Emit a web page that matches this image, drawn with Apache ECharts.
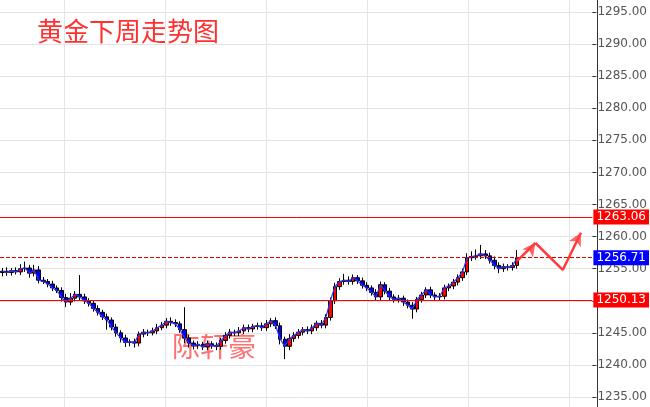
<!DOCTYPE html>
<html><head><meta charset="utf-8">
<script src="https://cdn.jsdelivr.net/npm/echarts@6/dist/echarts.min.js"></script>
<style>html,body{margin:0;padding:0;background:#fff}#c{width:650px;height:407px}</style>
</head><body><div id="c"></div>
<script>
const closes=[1254.6,1254.4,1254.7,1254.5,1255.0,1255.1,1254.3,1254.8,1253.2,1253.0,1252.6,
1252.0,1251.6,1250.5,1249.8,1250.4,1251.0,1250.6,1250.0,1249.6,1248.8,
1248.2,1247.5,1247.0,1245.9,1245.0,1244.2,1243.5,1243.6,1243.4,1244.8,
1245.1,1245.0,1245.3,1245.8,1246.2,1246.8,1246.6,1246.4,1245.5,1244.2,
1243.4,1243.0,1243.2,1242.8,1243.3,1243.0,1242.9,1243.8,1244.6,1245.1,
1245.0,1245.3,1245.8,1245.6,1246.0,1246.1,1245.8,1246.4,1246.9,1246.1,
1244.0,1242.9,1244.1,1244.6,1245.1,1245.5,1245.3,1245.8,1246.5,1246.2,
1247.4,1250.0,1252.2,1253.0,1253.2,1253.0,1253.6,1253.1,1252.4,1252.0,
1251.3,1250.6,1252.5,1251.5,1250.6,1250.2,1250.4,1249.8,1249.3,1248.7,
1250.2,1250.9,1251.7,1250.9,1250.6,1250.7,1252.0,1252.3,1252.9,1253.6,
1254.5,1256.7,1256.9,1257.0,1257.3,1257.0,1256.3,1255.5,1255.0,1255.3,1255.2,1255.5,1256.7];
const wickUp=[0.5,0.6,0.4,0.5,0.7,1.0,0.5,0.8,0.6,0.5,0.4,0.5,0.4,0.5,0.6,0.8,0.5,3.0,0.5,0.4,0.5,0.5,0.4,0.5,0.4,0.5,0.4,0.5,0.4,0.5,0.4,0.5,0.4,0.5,0.6,0.5,0.5,0.6,0.5,0.4,3.5,0.5,0.4,0.5,0.4,0.5,0.4,0.5,0.4,0.5,0.5,0.4,0.6,0.5,0.5,0.4,0.5,0.5,0.6,0.4,0.5,0.5,0.4,0.7,0.5,0.5,0.4,0.5,0.5,0.4,0.5,0.5,0.5,0.6,0.5,1.0,0.6,0.5,0.4,0.5,0.5,0.4,0.5,0.5,0.4,0.5,0.4,0.5,0.4,0.4,0.5,0.4,0.5,0.4,0.5,0.4,0.5,0.5,0.4,0.5,0.5,0.5,0.7,0.8,1.0,1.4,0.6,0.5,0.6,0.5,0.5,0.4,0.5,1.2];
const wickDn=[0.6,0.5,0.5,0.4,0.5,0.5,0.7,0.5,0.5,0.4,0.5,0.5,0.4,0.6,0.8,0.5,0.5,0.5,0.5,0.5,0.5,0.5,0.5,1.5,0.5,0.6,0.7,0.7,0.6,0.7,0.5,0.5,0.5,0.4,0.5,0.4,0.5,0.5,0.5,0.5,0.8,0.7,0.6,0.5,0.5,0.5,0.5,0.6,0.5,0.5,0.5,0.5,0.5,0.5,0.5,0.5,0.5,0.5,0.5,0.5,0.5,0.8,2.0,0.6,0.5,0.5,0.5,0.5,0.5,0.5,0.5,0.5,0.5,0.5,0.5,0.5,0.5,0.5,0.5,0.5,0.5,0.5,0.5,0.6,0.5,0.5,0.5,0.5,0.6,0.5,1.5,0.5,0.5,0.5,0.5,0.6,0.5,0.5,0.5,0.5,0.5,0.5,0.5,0.5,0.5,0.5,0.5,0.5,0.6,0.7,0.5,0.5,0.5,0.5];
const totalCats=130;
const yTicks={min:1235,max:1295,interval:5};
const levels=[{v:1263.06,c:'#ff0000',type:'solid'},{v:1256.71,c:'#dd0000',type:'dashed',bg:'#0000ff'},{v:1250.13,c:'#ff0000',type:'solid'}];
const arrow1=[[113,1256.2],[117,1259.0]];
const arrow2=[[117,1259.0],[123,1254.8],[127,1260.6]];
const arrowHeads=[{p:[117,1259.0],rot:-37},{p:[127,1260.6],rot:-28}];

const cats=[];for(let i=0;i<totalCats;i++)cats.push(i);
const ohlc=closes.map((c,i)=>{const o=i===0?c-0.2:closes[i-1];return [o,c,Math.min(o,c)-wickDn[i],Math.max(o,c)+wickUp[i]];});
const xBase={type:'category',data:cats,boundaryGap:true,axisLine:{show:false},axisTick:{show:false},axisLabel:{show:false}};
const ch=echarts.init(document.getElementById('c'));
ch.setOption({animation:false,
grid:[{left:0,right:53,top:12,bottom:10},{left:0,right:53,top:0,bottom:0}],
xAxis:[Object.assign({},xBase,{gridIndex:0,splitLine:{show:false}}),
 Object.assign({},xBase,{gridIndex:1,splitLine:{show:true,interval:(i)=>i%22===14,lineStyle:{color:'#e4e4e4'}}})],
yAxis:[{type:'value',gridIndex:0,position:'right',min:yTicks.min,max:yTicks.max,interval:yTicks.interval,
 axisLine:{show:false},axisTick:{show:true,length:4,lineStyle:{color:'#333'}},
 axisLabel:{color:'#555',fontSize:12,fontFamily:'DejaVu Sans',margin:5,formatter:v=>v.toFixed(2)},
 splitLine:{lineStyle:{color:'#e4e4e4'}}},
 {type:'value',gridIndex:1,position:'right',min:0,max:1,axisLine:{show:true,lineStyle:{color:'#333'}},axisTick:{show:false},axisLabel:{show:false},splitLine:{show:false}}],
series:[
{type:'candlestick',data:ohlc,barWidth:4,itemStyle:{color:'#ff0000',color0:'#0000ff',borderColor:'#000',borderColor0:'#000',borderWidth:1},
 markLine:{silent:true,symbol:'none',data:levels.map(l=>({yAxis:l.v,lineStyle:{color:l.c,type:l.type,width:1},
   label:{show:true,position:'end',distance:1,formatter:l.v.toFixed(2),color:'#fff',fontSize:12,fontFamily:'DejaVu Sans',backgroundColor:l.bg||l.c,padding:[2,3,1,3]}}))}},
{type:'line',data:closes,showSymbol:false,lineStyle:{color:'#3030ff',width:1.2},z:3},
{type:'line',data:arrow1,showSymbol:false,lineStyle:{color:'#ff3c3c',width:2.5},z:5},
{type:'line',data:arrow2,showSymbol:false,lineStyle:{color:'#ff3c3c',width:2.5},z:5},
{type:'scatter',data:arrowHeads.map(a=>({value:a.p,symbolRotate:a.rot})),symbol:'arrow',symbolSize:[10,13],itemStyle:{color:'#ff3c3c'},z:6}
],
graphic:[
{type:'text',left:37,top:18,style:{text:'黄金下周走势图',fill:'#ff3030',font:'26px "Noto Sans CJK SC"'}},
{type:'text',left:172,top:332,style:{text:'陈轩豪',fill:'#ff7070',font:'28px "Noto Sans CJK SC"'}}
]});
</script></body></html>
